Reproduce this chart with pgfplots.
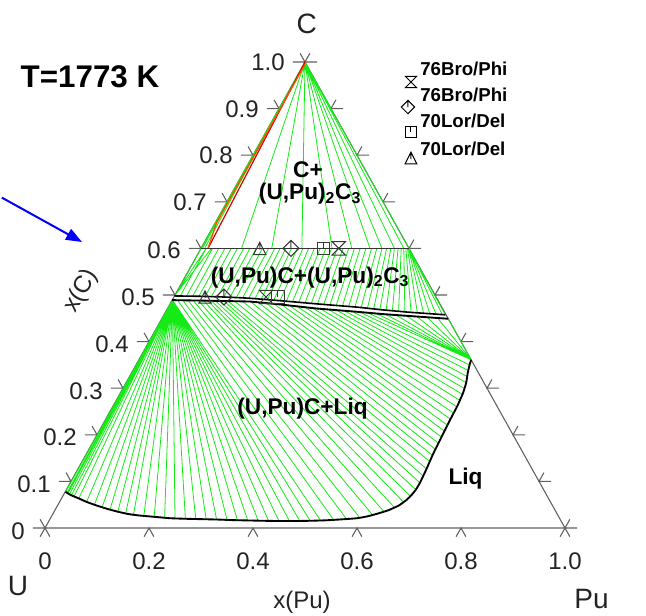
\documentclass[border=0pt]{standalone}
\usepackage{pgfplots}
\pgfplotsset{compat=1.18}
\usetikzlibrary{arrows.meta}
\usepackage{fontspec}
\setmainfont{Liberation Sans}
\definecolor{axgray}{RGB}{95,95,95}
\definecolor{tie}{RGB}{20,235,20}
\definecolor{txt}{RGB}{35,35,35}
\definecolor{mk}{RGB}{55,55,55}
\newcommand\fs[1]{\fontsize{#1}{#1}\selectfont}
\pgfdeclareplotmark{hglass}{%
 \pgfpathmoveto{\pgfqpoint{-\pgfplotmarksize}{\pgfplotmarksize}}%
 \pgfpathlineto{\pgfqpoint{\pgfplotmarksize}{\pgfplotmarksize}}%
 \pgfpathlineto{\pgfqpoint{-\pgfplotmarksize}{-\pgfplotmarksize}}%
 \pgfpathlineto{\pgfqpoint{\pgfplotmarksize}{-\pgfplotmarksize}}%
 \pgfpathclose\pgfusepathqstroke}
\pgfdeclareplotmark{dtick}{%
 \pgfpathmoveto{\pgfqpoint{0pt}{\pgfplotmarksize}}%
 \pgfpathlineto{\pgfqpoint{\pgfplotmarksize}{0pt}}%
 \pgfpathlineto{\pgfqpoint{0pt}{-\pgfplotmarksize}}%
 \pgfpathlineto{\pgfqpoint{-\pgfplotmarksize}{0pt}}%
 \pgfpathclose
 \pgfpathmoveto{\pgfqpoint{0pt}{\pgfplotmarksize}}%
 \pgfpathlineto{\pgfqpoint{0pt}{0pt}}%
 \pgfusepathqstroke}
\pgfdeclareplotmark{stick}{%
 \pgfpathrectanglecorners{\pgfqpoint{-\pgfplotmarksize}{-\pgfplotmarksize}}{\pgfqpoint{\pgfplotmarksize}{\pgfplotmarksize}}%
 \pgfpathmoveto{\pgfqpoint{0pt}{\pgfplotmarksize}}%
 \pgfpathlineto{\pgfqpoint{0pt}{0pt}}%
 \pgfusepathqstroke}
\pgfdeclareplotmark{ttick}{%
 \pgfpathmoveto{\pgfqpoint{0pt}{\pgfplotmarksize}}%
 \pgfpathlineto{\pgfqpoint{\pgfplotmarksize}{-\pgfplotmarksize}}%
 \pgfpathlineto{\pgfqpoint{-\pgfplotmarksize}{-\pgfplotmarksize}}%
 \pgfpathclose
 \pgfpathmoveto{\pgfqpoint{0pt}{\pgfplotmarksize}}%
 \pgfpathlineto{\pgfqpoint{0pt}{-0.2\pgfplotmarksize}}%
 \pgfusepathqstroke}
\begin{document}
\begin{tikzpicture}
\begin{axis}[scale only axis, width=484.5pt, height=461.25pt,
 xmin=-0.086538, xmax=1.155769, ymin=-0.186695, ymax=1.133047,
 axis lines=none, clip=false, unbounded coords=jump]
\addplot[draw=none] coordinates {(-0.086538,-0.186695) (1.155769,1.133047)};
% triangle frame
\addplot[axgray, line width=0.8pt] coordinates {(0,0) (1,0) (0.5,1) (0,0)};
% ticks
\addplot[axgray, line width=0.8pt] coordinates {
(-0.0231,0) (0,0) (-0.0094,0.0187) (nan,nan)
(0.0269,0.1) (0.05,0.1) (0.0406,0.1187) (nan,nan)
(0.0769,0.2) (0.1,0.2) (0.0906,0.2187) (nan,nan)
(0.1269,0.3) (0.15,0.3) (0.1406,0.3187) (nan,nan)
(0.1769,0.4) (0.2,0.4) (0.1906,0.4187) (nan,nan)
(0.2269,0.5) (0.25,0.5) (0.2406,0.5187) (nan,nan)
(0.2769,0.6) (0.3,0.6) (0.2906,0.6187) (nan,nan)
(0.3269,0.7) (0.35,0.7) (0.3406,0.7187) (nan,nan)
(0.3769,0.8) (0.4,0.8) (0.3906,0.8187) (nan,nan)
(0.4269,0.9) (0.45,0.9) (0.4406,0.9187) (nan,nan)
(0.4769,1) (0.5,1) (0.4906,1.0187) (nan,nan)
(1.0231,0) (1,0) (1.0094,0.0187) (nan,nan)
(0.9731,0.1) (0.95,0.1) (0.9594,0.1187) (nan,nan)
(0.9231,0.2) (0.9,0.2) (0.9094,0.2187) (nan,nan)
(0.8731,0.3) (0.85,0.3) (0.8594,0.3187) (nan,nan)
(0.8231,0.4) (0.8,0.4) (0.8094,0.4187) (nan,nan)
(0.7731,0.5) (0.75,0.5) (0.7594,0.5187) (nan,nan)
(0.7231,0.6) (0.7,0.6) (0.7094,0.6187) (nan,nan)
(0.6731,0.7) (0.65,0.7) (0.6594,0.7187) (nan,nan)
(0.6231,0.8) (0.6,0.8) (0.6094,0.8187) (nan,nan)
(0.5731,0.9) (0.55,0.9) (0.5594,0.9187) (nan,nan)
(0.5231,1) (0.5,1) (0.5094,1.0187) (nan,nan)
(-0.0094,-0.0187) (0,0) (0.0094,-0.0187) (nan,nan)
(0.1906,-0.0187) (0.2,0) (0.2094,-0.0187) (nan,nan)
(0.3906,-0.0187) (0.4,0) (0.4094,-0.0187) (nan,nan)
(0.5906,-0.0187) (0.6,0) (0.6094,-0.0187) (nan,nan)
(0.7906,-0.0187) (0.8,0) (0.8094,-0.0187) (nan,nan)
(0.9906,-0.0187) (1,0) (1.0094,-0.0187)
};
% region 1: C + (U,Pu)2C3 tie lines
\addplot[tie, line width=0.6pt] coordinates {
(0.5,1) (0.30,0.6) (nan,nan) (0.5,1) (0.303,0.6) (nan,nan) (0.5,1) (0.307,0.6) (nan,nan)
(0.5,1) (0.378,0.6) (nan,nan) (0.5,1) (0.436,0.6) (nan,nan) (0.5,1) (0.494,0.6) (nan,nan)
(0.5,1) (0.552,0.6) (nan,nan) (0.5,1) (0.59,0.6) (nan,nan) (0.5,1) (0.625,0.6) (nan,nan)
(0.5,1) (0.648,0.6) (nan,nan) (0.5,1) (0.672,0.6) (nan,nan) (0.5,1) (0.69,0.6) (nan,nan)
(0.5,1) (0.70,0.6)
};
% region 2: (U,Pu)C + (U,Pu)2C3 tie lines
\addplot[tie, line width=0.6pt] coordinates {
(0.249,0.498) (0.31,0.6) (nan,nan) (0.249,0.498) (0.32,0.6) (nan,nan)
(0.25,0.498) (0.30,0.6) (nan,nan) (0.26,0.4978) (0.31,0.6) (nan,nan)
(0.272,0.4976) (0.322,0.6) (nan,nan) (0.284,0.4974) (0.334,0.6) (nan,nan)
(0.296,0.4972) (0.346,0.6) (nan,nan) (0.308,0.4969) (0.358,0.6) (nan,nan)
(0.32,0.4965) (0.37,0.6) (nan,nan) (0.332,0.4961) (0.382,0.6) (nan,nan)
(0.344,0.4957) (0.394,0.6) (nan,nan) (0.356,0.4952) (0.406,0.6) (nan,nan)
(0.368,0.4945) (0.418,0.6) (nan,nan) (0.38,0.4938) (0.43,0.6) (nan,nan)
(0.392,0.4931) (0.442,0.6) (nan,nan) (0.404,0.4921) (0.452,0.6) (nan,nan)
(0.416,0.491) (0.463,0.6) (nan,nan) (0.428,0.49) (0.474,0.6) (nan,nan)
(0.44,0.4889) (0.485,0.6) (nan,nan) (0.452,0.4878) (0.496,0.6) (nan,nan)
(0.464,0.4866) (0.507,0.6) (nan,nan) (0.476,0.4855) (0.518,0.6) (nan,nan)
(0.488,0.4843) (0.529,0.6) (nan,nan) (0.50,0.4831) (0.54,0.6) (nan,nan)
(0.512,0.482) (0.551,0.6) (nan,nan) (0.524,0.4808) (0.562,0.6) (nan,nan)
(0.536,0.4797) (0.573,0.6) (nan,nan) (0.548,0.4787) (0.584,0.6) (nan,nan)
(0.56,0.4776) (0.595,0.6) (nan,nan) (0.572,0.4765) (0.606,0.6) (nan,nan)
(0.584,0.4754) (0.617,0.6) (nan,nan) (0.596,0.4744) (0.628,0.6) (nan,nan)
(0.608,0.473) (0.638,0.6) (nan,nan) (0.62,0.4716) (0.648,0.6) (nan,nan)
(0.632,0.4702) (0.657,0.6) (nan,nan) (0.644,0.4687) (0.665,0.6) (nan,nan)
(0.656,0.4674) (0.672,0.6) (nan,nan) (0.668,0.4662) (0.679,0.6) (nan,nan)
(0.68,0.465) (0.685,0.6) (nan,nan) (0.692,0.4638) (0.69,0.6) (nan,nan)
(0.704,0.4627) (0.694,0.6) (nan,nan) (0.716,0.4618) (0.697,0.6) (nan,nan)
(0.728,0.4609) (0.699,0.6) (nan,nan) (0.74,0.46) (0.70,0.6) (nan,nan)
(0.752,0.4591) (0.70,0.6) (nan,nan) (0.764,0.458) (0.70,0.6) (nan,nan)
(0.77,0.4575) (0.70,0.6)
};
% region 3: (U,Pu)C + Liq tie lines
\addplot[tie, line width=0.6pt] coordinates {
(0.245,0.489) (0.0395,0.0775) (nan,nan) (0.245,0.489) (0.042,0.075) (nan,nan)
(0.245,0.489) (0.044,0.074) (nan,nan) (0.245,0.489) (0.047,0.0725) (nan,nan)
(0.245,0.489) (0.051,0.0705) (nan,nan) (0.245,0.489) (0.056,0.068) (nan,nan)
(0.245,0.489) (0.065,0.0635) (nan,nan) (0.245,0.489) (0.08,0.056) (nan,nan)
(0.245,0.489) (0.095,0.05) (nan,nan) (0.245,0.489) (0.11,0.0445) (nan,nan)
(0.245,0.489) (0.125,0.0395) (nan,nan) (0.245,0.489) (0.14,0.035) (nan,nan)
(0.245,0.489) (0.155,0.031) (nan,nan) (0.245,0.489) (0.17,0.028) (nan,nan)
(0.245,0.489) (0.19,0.026) (nan,nan) (0.245,0.489) (0.21,0.024) (nan,nan)
(0.245,0.489) (0.23,0.022) (nan,nan) (0.245,0.489) (0.25,0.0205) (nan,nan)
(0.245,0.489) (0.27,0.0198) (nan,nan) (0.245,0.489) (0.29,0.0192) (nan,nan)
(0.245,0.489) (0.31,0.0187) (nan,nan) (0.245,0.489) (0.33,0.0182) (nan,nan)
(0.245,0.489) (0.35,0.0175) (nan,nan) (0.245,0.489) (0.37,0.0168) (nan,nan)
(0.245,0.489) (0.39,0.0162) (nan,nan) (0.245,0.489) (0.41,0.0157) (nan,nan)
(0.245,0.489) (0.43,0.0152) (nan,nan) (0.245,0.489) (0.45,0.015) (nan,nan)
(0.245,0.489) (0.47,0.015) (nan,nan) (0.245,0.489) (0.49,0.015) (nan,nan)
(0.245,0.489) (0.51,0.0155) (nan,nan) (0.245,0.489) (0.53,0.0162) (nan,nan)
(0.255,0.4888) (0.555,0.0175) (nan,nan) (0.265,0.4886) (0.58,0.019) (nan,nan)
(0.275,0.4885) (0.605,0.0225) (nan,nan) (0.285,0.4883) (0.63,0.028) (nan,nan)
(0.295,0.4881) (0.652,0.035) (nan,nan) (0.305,0.4879) (0.672,0.044) (nan,nan)
(0.313,0.4877) (0.69,0.055) (nan,nan) (0.32,0.4876) (0.703,0.068) (nan,nan)
(0.328,0.4874) (0.713,0.082) (nan,nan) (0.336,0.4873) (0.721,0.097) (nan,nan)
(0.344,0.4871) (0.727,0.112) (nan,nan) (0.352,0.487) (0.7335,0.127) (nan,nan)
(0.365,0.4867) (0.7395,0.143) (nan,nan) (0.38,0.4863) (0.745,0.156) (nan,nan)
(0.395,0.4859) (0.7505,0.169) (nan,nan) (0.41,0.4843) (0.7565,0.182) (nan,nan)
(0.425,0.4827) (0.7625,0.195) (nan,nan) (0.44,0.4811) (0.768,0.208) (nan,nan)
(0.455,0.4794) (0.7735,0.221) (nan,nan) (0.47,0.4775) (0.7795,0.234) (nan,nan)
(0.485,0.4756) (0.785,0.247) (nan,nan) (0.50,0.4737) (0.792,0.26) (nan,nan)
(0.515,0.4718) (0.799,0.273) (nan,nan) (0.53,0.4703) (0.804,0.286) (nan,nan)
(0.545,0.469) (0.807,0.299) (nan,nan) (0.56,0.4677) (0.81,0.312) (nan,nan)
(0.575,0.4663) (0.812,0.325) (nan,nan) (0.59,0.465) (0.814,0.338) (nan,nan)
(0.605,0.4635) (0.8165,0.35) (nan,nan) (0.62,0.462) (0.8195,0.361) (nan,nan)
(0.637,0.4603) (0.8195,0.361) (nan,nan) (0.655,0.4586) (0.8195,0.361) (nan,nan)
(0.675,0.457) (0.8195,0.361) (nan,nan) (0.695,0.4554) (0.8195,0.361) (nan,nan)
(0.715,0.4538) (0.8195,0.361) (nan,nan) (0.735,0.4522) (0.8195,0.361) (nan,nan)
(0.755,0.4506) (0.8195,0.361) (nan,nan) (0.7755,0.449) (0.8195,0.361)
};
% three-phase sliver (red)
\addplot[red!85!black, line width=0.9pt] coordinates {(0.5,1) (0.3135,0.6)};
\addplot[orange!60!red, line width=0.9pt] coordinates {(0.5,0.995) (0.33,0.655) (0.3135,0.6)};
% (U,Pu)2C3 line
\addplot[black!80, line width=1pt] coordinates {(0.3,0.6) (0.7,0.6)};
% (U,Pu)C boundaries
\addplot[black, line width=1.2pt] coordinates {(0.249,0.498) (0.30,0.4972) (0.35,0.4955) (0.394,0.493) (0.45,0.488) (0.522,0.481) (0.60,0.474) (0.65,0.468) (0.70,0.463) (0.77,0.4575)};
\addplot[black, line width=1.4pt] coordinates {(0.2445,0.489) (0.30,0.488) (0.35,0.487) (0.394,0.486) (0.45,0.480) (0.522,0.471) (0.60,0.464) (0.65,0.459) (0.70,0.455) (0.7755,0.449)};
% liquidus
\addplot[black, line width=1.4pt, smooth, tension=0.3] coordinates {
(0.0395,0.0775) (0.05,0.0705) (0.065,0.0635) (0.08,0.056) (0.10,0.048) (0.12,0.041) (0.14,0.035) (0.16,0.030) (0.18,0.027) (0.20,0.025) (0.22,0.023) (0.24,0.021) (0.27,0.0198) (0.30,0.019) (0.33,0.0182) (0.36,0.017) (0.39,0.0162) (0.42,0.0155) (0.45,0.015) (0.48,0.015) (0.51,0.0155) (0.54,0.0165) (0.57,0.0185) (0.60,0.021) (0.62,0.025) (0.64,0.031) (0.66,0.038) (0.68,0.048) (0.695,0.06) (0.705,0.071) (0.713,0.082) (0.721,0.097) (0.733,0.125) (0.746,0.158) (0.762,0.194) (0.779,0.232) (0.793,0.262) (0.804,0.29) (0.81,0.312) (0.813,0.333) (0.8165,0.35) (0.8195,0.361)};
% experimental points
\addplot[only marks, mark=hglass, mark size=5pt, mk, line width=0.75pt] coordinates {(0.565,0.6) (0.425,0.4957)};
\addplot[only marks, mark=dtick, mark size=6pt, mk, line width=0.75pt] coordinates {(0.473,0.6) (0.344,0.4957)};
\addplot[only marks, mark=stick, mark size=4.6pt, mk, line width=0.75pt] coordinates {(0.535,0.6) (0.448,0.4957)};
\addplot[only marks, mark=ttick, mark size=4.6pt, mk, line width=0.75pt] coordinates {(0.413,0.6) (0.3077,0.4957)};
% legend symbols
\addplot[only marks, mark=hglass, mark size=4.2pt, black, line width=0.75pt] coordinates {(0.7038,0.9571)};
\addplot[only marks, mark=dtick, mark size=5pt, black, line width=0.75pt] coordinates {(0.698,0.9034)};
\addplot[only marks, mark=stick, mark size=4.2pt, black, line width=0.75pt] coordinates {(0.7038,0.8498)};
\addplot[only marks, mark=ttick, mark size=4.4pt, black, line width=0.75pt] coordinates {(0.7038,0.794)};
% arrow
\addplot[blue, line width=1.5pt, -{Triangle[length=12pt,width=9pt]}] coordinates {(-0.083,0.709) (0.0712,0.6137)};
% legend text
\begin{scope}[every node/.style={inner sep=0pt, anchor=base west, font=\fs{14}\bfseries}]
\node at (axis cs:0.7212,0.9721) {76Bro/Phi};
\node at (axis cs:0.7212,0.9142) {76Bro/Phi};
\node at (axis cs:0.7212,0.8584) {70Lor/Del};
\node at (axis cs:0.7212,0.8004) {70Lor/Del};
\end{scope}
% tick labels
\begin{scope}[every node/.style={inner sep=0pt, anchor=east, text=txt, font=\fs{18}}]
\node at (axis cs:-0.0385,-0.006) {0};
\node at (axis cs:0.0115,0.094) {0.1};
\node at (axis cs:0.0615,0.194) {0.2};
\node at (axis cs:0.1115,0.294) {0.3};
\node at (axis cs:0.1615,0.395) {0.4};
\node at (axis cs:0.2115,0.496) {0.5};
\node at (axis cs:0.2615,0.597) {0.6};
\node at (axis cs:0.3115,0.698) {0.7};
\node at (axis cs:0.3615,0.799) {0.8};
\node at (axis cs:0.4115,0.899) {0.9};
\node at (axis cs:0.4615,1.0) {1.0};
\end{scope}
\begin{scope}[every node/.style={inner sep=0pt, anchor=base, text=txt, font=\fs{18}}]
\node at (axis cs:0,-0.0901) {0};
\node at (axis cs:0.2,-0.0901) {0.2};
\node at (axis cs:0.4,-0.0901) {0.4};
\node at (axis cs:0.6,-0.0901) {0.6};
\node at (axis cs:0.8,-0.0901) {0.8};
\node at (axis cs:1.0,-0.0901) {1.0};
\node at (axis cs:0.4942,-0.1738) {x(Pu)};
\end{scope}
\node[inner sep=0pt, rotate=60, text=txt, font=\fs{18}] at (axis cs:0.0692,0.5086) {x(C)};
% corner labels
\begin{scope}[every node/.style={inner sep=0pt, anchor=base, text=txt, font=\fs{21}}]
\node at (axis cs:0.5032,1.0622) {C};
\node at (axis cs:-0.0519,-0.1438) {U};
\node at (axis cs:1.051,-0.1717) {Pu};
\end{scope}
% region labels
\begin{scope}[every node/.style={inner sep=0pt, anchor=base, font=\fs{17}\bfseries}]
\node at (axis cs:0.5058,0.7511) {C+};
\node at (axis cs:0.5096,0.7039) {(U,Pu)\textsubscript{2}C\textsubscript{3}};
\node at (axis cs:0.5096,0.525) {(U,Pu)C+(U,Pu)\textsubscript{2}C\textsubscript{3}};
\node at (axis cs:0.4952,0.2425) {(U,Pu)C+Liq};
\node at (axis cs:0.8087,0.0923) {Liq};
\end{scope}
\node[inner sep=0pt, anchor=base, font=\fs{23.5}\bfseries] at (axis cs:0.0865,0.9457) {T=1773 K};
\end{axis}
\end{tikzpicture}
\end{document}
